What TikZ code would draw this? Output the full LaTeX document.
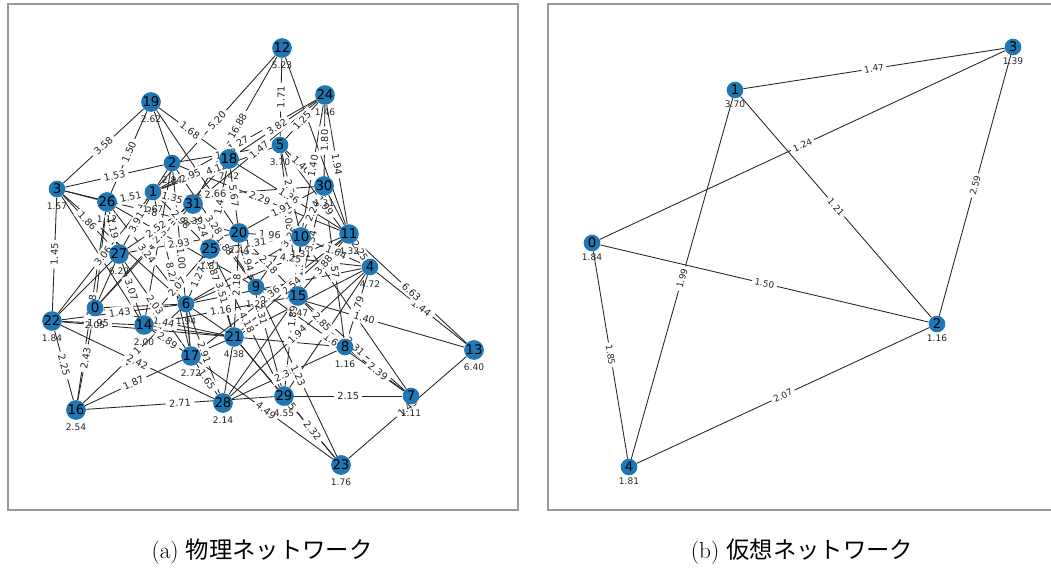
\documentclass[tikz,border=0pt]{standalone}
\usepackage{fontspec}
\usepackage{xcolor}
\usepackage{tikz}
\usetikzlibrary{backgrounds}
\newfontfamily\plotfont{DejaVu Sans}
\newfontfamily\cjkfont{Noto Sans CJK JP}
\definecolor{nodeblue}{HTML}{1F77B4}
\definecolor{framegray}{HTML}{999999}
\pgfdeclarelayer{edgetext}
\pgfsetlayers{background,edgetext,main}

% edges that carry a weight
\newcommand{\physedges}{5/10/2.36, 5/15/2.08, 1/5/4.12, 31/25/1.24, 0/18/2.35, 6/25/1.27, 2/17/1.00,
  1/17/8.27, 20/9/2.94, 31/9/1.88, 31/21/1.87, 16/26/1.28, 16/6/2.11, 24/1/1.27, 5/30/1.46, 10/15/1.35, 21/23/1.85,
  4/8/6.79, 30/8/1.57, 5/4/1.99, 10/29/1.89, 9/7/1.63, 15/7/2.31, 4/13/1.44, 23/13/1.43, 1/25/2.98, 18/25/1.42,
  3/19/3.58, 19/26/1.50, 3/2/1.53, 19/18/1.68, 12/1/5.20, 12/31/16.88, 24/18/3.82, 24/5/1.25, 12/5/1.71,
  24/31/1.47, 24/11/1.94, 24/30/1.80, 24/10/1.40, 18/11/1.36, 26/1/1.51, 3/27/1.86, 3/20/7.28, 3/22/1.45,
  22/1/3.06, 26/27/1.19, 1/27/3.91, 27/31/2.52, 26/6/3.24, 1/31/1.35, 1/18/2.95, 26/30/2.66, 18/20/5.67,
  2/11/2.29, 20/30/1.91, 10/30/2.24, 9/30/3.25, 15/30/3.34, 20/10/1.96, 25/10/1.31, 27/20/2.93, 2/9/3.28,
  14/25/2.07, 25/21/3.51, 20/21/2.18, 25/29/4.18, 14/15/1.16, 0/21/1.44, 22/6/1.43, 22/14/1.95, 27/17/2.03,
  27/14/3.07, 14/17/2.89, 22/28/2.42, 16/17/1.87, 22/16/2.25, 16/0/2.43, 16/29/2.71, 6/28/2.91, 17/28/1.65,
  17/23/4.49, 28/8/2.38, 28/4/1.94, 9/23/1.23, 29/23/2.32, 29/7/2.15, 8/7/2.39, 9/13/1.40, 11/13/6.63,
  15/8/2.85, 11/15/3.88, 21/11/2.54, 17/11/2.36, 20/29/2.31, 25/4/4.25, 11/4/2.25, 10/4/1.64, 20/15/2.18, 2/5/1.42}
% edges whose weight is hidden in the picture
\newcommand{\physplain}{1/2, 19/2, 19/20, 3/26, 3/6, 3/14, 26/9, 0/31, 0/26, 0/27, 22/27, 12/11, 0/6, 14/21, 22/21,
  6/21, 6/17, 21/17, 28/21, 28/15, 4/29, 4/21, 6/10, 6/11, 6/4, 7/10, 30/11, 14/2, 21/8, 21/29}
\newcommand{\virtedges}{1/3/1.47, 0/3/1.24, 1/2/1.21, 2/3/2.59, 1/4/1.99, 0/2/1.50, 0/4/1.85, 2/4/2.07}

\begin{document}
\begin{tikzpicture}[
  x=0.75pt, y=-0.75pt,
  vertex/.style={circle, fill=nodeblue, minimum size=12.5pt, inner sep=0pt, font=\plotfont\fontsize{10}{10}\selectfont},
  edgeline/.style={draw=black!85, line width=0.65pt},
  edgelabel/.style={midway, sloped, fill=white, inner xsep=2.5pt, inner ysep=1.6pt, text=black!85, font=\plotfont\fontsize{7.3}{7.3}\selectfont},
  virtlabel/.style={edgelabel, inner xsep=2pt, inner ysep=1.2pt, font=\plotfont\fontsize{6.7}{6.7}\selectfont},
  weightlabel/.style={text=black!85, inner sep=0pt, font=\plotfont\fontsize{6.8}{6.8}\selectfont},
  panel/.style={draw=framegray, line width=1pt},
  captionlabel/.style={font=\fontsize{17.5}{20}\selectfont}
]
\useasboundingbox (0,0) rectangle (1051,568);

\draw[panel] (8,4) rectangle (518,510);
\draw[panel] (1051,4) -- (548,4) -- (548,510) -- (1051,510);

% physical network
\foreach \name/\xpos/\ypos in {0/95/308, 1/153/192, 2/172/163, 3/57/189, 4/370/267, 5/280/145, 6/186/304, 7/411/396,
  8/345/347, 9/256/287, 10/301/237, 11/349/234, 12/282/48, 13/474/350, 14/144/325, 15/298/296, 16/76/410,
  17/191/356, 18/229/159, 19/151/102, 20/239/233, 21/234/337, 22/52/321, 23/341/465, 24/325/95, 25/210/249,
  26/107/202, 27/119/254, 28/223/403, 29/284/396, 30/324/186, 31/193/204}
  \node[vertex] (p\name) at (\xpos,\ypos) {\name};

\begin{pgfonlayer}{background}
  \foreach \a/\b/\w in \physedges \draw[edgeline] (p\a) -- (p\b);
  \foreach \a/\b in \physplain \draw[edgeline] (p\a) -- (p\b);
\end{pgfonlayer}
\begin{pgfonlayer}{edgetext}
  \foreach \a/\b/\w in \physedges \path (p\a) -- node[edgelabel] {\w} (p\b);
\end{pgfonlayer}

\foreach \name/\w in {0/2.05, 1/1.67, 2/2.84, 3/1.57, 4/4.72, 5/3.70, 6/1.94, 7/1.11, 8/1.16, 9/1.28, 10/1.31, 11/4.32,
  12/5.23, 13/6.40, 14/2.00, 15/1.47, 16/2.54, 17/2.72, 18/7.42, 19/2.62, 20/2.44, 21/4.38, 22/1.84, 23/1.76,
  24/1.46, 25/1.81, 26/1.12, 27/6.29, 28/2.14, 29/4.55, 30/1.31, 31/8.39}
  \node[weightlabel] at ([yshift=-12.75pt]p\name.center) {\w};

% virtual network
\foreach \name/\xpos/\ypos in {0/592/243, 1/735/90, 2/937/324, 3/1013/47, 4/629/467}
  \node[vertex] (v\name) at (\xpos,\ypos) {\name};

\begin{pgfonlayer}{background}
  \foreach \a/\b/\w in \virtedges \draw[edgeline] (v\a) -- (v\b);
\end{pgfonlayer}
\begin{pgfonlayer}{edgetext}
  \foreach \a/\b/\w in \virtedges \path (v\a) -- node[virtlabel] {\w} (v\b);
\end{pgfonlayer}

\foreach \name/\w in {0/1.84, 1/3.70, 2/1.16, 3/1.39, 4/1.81}
  \node[weightlabel] at ([yshift=-10.5pt]v\name.center) {\w};

\node[captionlabel] (captiona) at (262,552) {(a) {\cjkfont 物理ネットワーク}};
\node[captionlabel] (captionb) at (802,552) {(b) {\cjkfont 仮想ネットワーク}};
\end{tikzpicture}
\end{document}
